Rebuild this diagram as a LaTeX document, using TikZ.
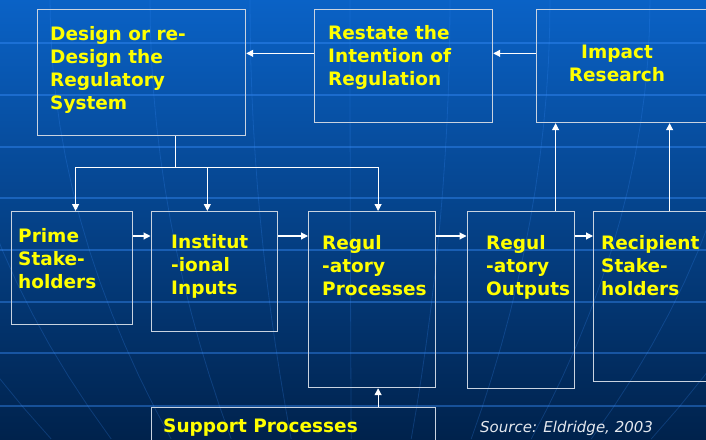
\documentclass[tikz,border=0pt]{standalone}
\usepackage{fontspec}
\setmainfont{DejaVu Sans}
\usetikzlibrary{arrows.meta}
\definecolor{bgtop}{HTML}{0A62C6}
\definecolor{bgmid}{HTML}{00489A}
\definecolor{bgbot}{HTML}{00224C}
\definecolor{gridblue}{HTML}{3A90FF}
\definecolor{framegrey}{HTML}{C9D3E0}
\definecolor{labelyellow}{HTML}{FFFF00}
\definecolor{sourcegrey}{HTML}{E4E8EE}
\tikzset{
  box/.style={draw=framegrey, line width=1.2pt, anchor=north west, inner sep=0pt},
  boxtext/.style={text=labelyellow, font=\fontsize{18.5}{23}\selectfont\bfseries,
    inner sep=0pt, align=left, anchor=north west},
  link/.style={draw=white, line width=1.1pt},
  arr/.style={link, -{Triangle[length=7pt,width=7pt]}},
}
\begin{document}
\begin{tikzpicture}[x=1pt,y=-1pt]
  \clip (0,0) rectangle (706,439);
  % background
  \fill [top color=bgtop, middle color=bgmid, bottom color=bgbot] (0,0) rectangle (706,439);
  \foreach \m in {-350,-250,...,1050}
    \draw [gridblue, opacity=0.22, line width=0.8pt]
      plot [domain=0:439, samples=15, variable=\t] ({353+(\m-353)*(1-0.4*(\t/439)^2)},\t);
  \foreach \y in {43,95,147,198,250,302,353,406}
    \draw [gridblue, opacity=0.4, line width=2pt] (0,\y) -- (706,\y);

  % top row
  \node [box, minimum width=208.5pt, minimum height=126.5pt] (design) at (36.5,8.5) {};
  \node [box, minimum width=178pt, minimum height=113.5pt] (restate) at (314,8.5) {};
  \node [box, minimum width=180pt, minimum height=113.5pt] (impact) at (536,8.5) {};
  \node [boxtext] (design-t) at (50,26) {Design or re-\\Design the\\Regulatory\\System};
  \node [boxtext] (restate-t) at (328,25) {Restate the\\Intention of\\Regulation};
  \node [boxtext, align=center, anchor=north] (impact-t) at (617,45) {Impact\\Research};

  % middle row
  \node [box, minimum width=121pt, minimum height=113pt] (prime) at (11,211) {};
  \node [box, minimum width=126.5pt, minimum height=120pt] (inst) at (150.5,211) {};
  \node [box, minimum width=127pt, minimum height=176pt] (proc) at (308,211) {};
  \node [box, minimum width=107pt, minimum height=176.5pt] (outp) at (466.5,211) {};
  \node [box, minimum width=120pt, minimum height=170pt] (recip) at (593,211) {};
  \node [boxtext] (prime-t) at (18,228) {Prime\\Stake-\\holders};
  \node [boxtext] (inst-t) at (171,234) {Institut\\-ional\\Inputs};
  \node [boxtext] (proc-t) at (322,235) {Regul\\-atory\\Processes};
  \node [boxtext] (outp-t) at (486,235) {Regul\\-atory\\Outputs};
  \node [boxtext] (recip-t) at (601,235) {Recipient\\Stake-\\holders};

  % bottom
  \node [box, minimum width=284.5pt, minimum height=40pt] (support) at (150.5,406.5) {};
  \node [boxtext, anchor=base west] (support-t) at (163,432) {Support Processes};
  \node [text=sourcegrey, font=\fontsize{15}{18}\selectfont\itshape, inner sep=0pt,
    anchor=base west] (source) at (480,432) {Source: Eldridge, 2003};

  % feedback along the top
  \coordinate (r-out) at ([yshift=12.5pt]restate.west);
  \coordinate (i-out) at ([yshift=12.5pt]impact.west);
  \draw [arr] (r-out) -- (r-out -| design.east);
  \draw [arr] (i-out) -- (i-out -| restate.east);

  % design feeds the first three
  \coordinate (d-out) at ([xshift=34.5pt]design.south);
  \coordinate (bus) at ([yshift=-31pt]d-out);
  \coordinate (p-in) at ([xshift=3.5pt]prime.north);
  \coordinate (n-in) at ([xshift=-7pt]inst.north);
  \coordinate (c-in) at ([xshift=6pt]proc.north);
  \draw [link] (d-out) -- (bus);
  \draw [link] (bus -| p-in) -- (bus -| c-in);
  \draw [arr] (bus -| p-in) -- (p-in);
  \draw [arr] (bus -| n-in) -- (n-in);
  \draw [arr] (bus -| c-in) -- (c-in);

  % the chain
  \draw [arr] ([yshift=-25pt]prime.north east) -- ([yshift=-25pt]inst.north west);
  \draw [arr] ([yshift=-25pt]inst.north east) -- ([yshift=-25pt]proc.north west);
  \draw [arr] ([yshift=-25pt]proc.north east) -- ([yshift=-25pt]outp.north west);
  \draw [arr] ([yshift=-25pt]outp.north east) -- ([yshift=-25pt]recip.north west);

  % back up to impact research
  \coordinate (o-up) at ([xshift=35pt]outp.north);
  \coordinate (s-up) at ([xshift=16pt]recip.north);
  \draw [arr] (o-up) -- (o-up |- impact.south);
  \draw [arr] (s-up) -- (s-up |- impact.south);

  % support
  \coordinate (u-in) at ([xshift=6pt]proc.south);
  \draw [arr] (u-in |- support.north) -- (u-in);
\end{tikzpicture}
\end{document}
